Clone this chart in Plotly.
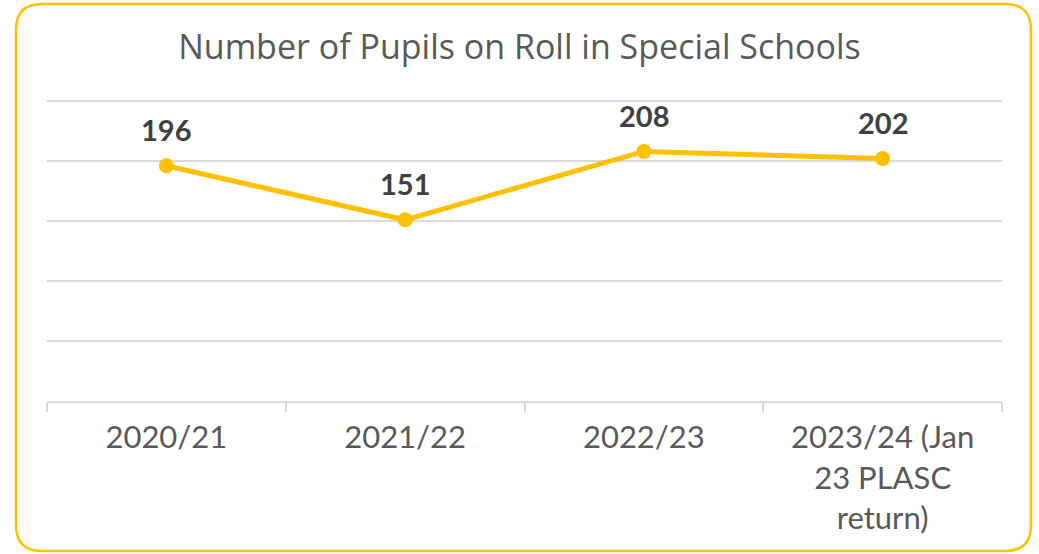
import plotly.graph_objects as go

# Pupils on roll in special schools by year
years = ["2020/21", "2021/22", "2022/23", "2023/24 (Jan<br>23 PLASC<br>return)"]
pupils = [196, 151, 208, 202]

GOLD = "#FFC000"
W, H = 1039, 554
L, R, T, B = 47, 37, 98, 153
Y_TOP = 252.5

fig = go.Figure()
fig.add_trace(go.Scatter(
    x=years, y=pupils, mode="lines+markers",
    line=dict(color=GOLD, width=5),
    marker=dict(color=GOLD, size=15),
    hoverinfo="x+y", showlegend=False,
))

# value labels above each point
for xv, yv in zip(years, pupils):
    fig.add_annotation(
        x=xv, y=yv, text=f"<b>{yv}</b>", showarrow=False,
        yshift=36, font=dict(family="Lato, sans-serif", size=29, color="#404040"),
    )

# rounded gold frame around the whole chart (pixel -> paper coords)
pw, ph = W - L - R, H - T - B
def px(x): return (x - L) / pw
def py(y): return (H - B - y) / ph
x0, x1, y0, y1, r = 16, 1031, 4, 551, 26
path = (f"M {px(x0 + r)},{py(y0)} L {px(x1 - r)},{py(y0)} "
        f"Q {px(x1)},{py(y0)} {px(x1)},{py(y0 + r)} "
        f"L {px(x1)},{py(y1 - r)} Q {px(x1)},{py(y1)} {px(x1 - r)},{py(y1)} "
        f"L {px(x0 + r)},{py(y1)} Q {px(x0)},{py(y1)} {px(x0)},{py(y1 - r)} "
        f"L {px(x0)},{py(y0 + r)} Q {px(x0)},{py(y0)} {px(x0 + r)},{py(y0)} Z")
fig.add_shape(type="path", path=path, xref="paper", yref="paper",
              line=dict(color=GOLD, width=2.5), layer="below")

fig.update_layout(
    width=W, height=H,
    margin=dict(l=L, r=R, t=T, b=B),
    paper_bgcolor="white", plot_bgcolor="white",
    title=dict(text="Number of Pupils on Roll in Special Schools",
               x=0.5, xanchor="center", y=1 - 47 / H, yanchor="middle",
               font=dict(family="Open Sans, sans-serif", size=34, color="#595959")),
    xaxis=dict(
        type="category", range=[-0.5, 3.5], showgrid=False,
        showline=True, linecolor="#D9D9D9", linewidth=2,
        ticks="outside", tickson="boundaries", ticklen=9, tickwidth=2, tickcolor="#D9D9D9",
        tickfont=dict(family="Lato, sans-serif", size=31, color="#595959"),
        ticklabelstandoff=8, fixedrange=True,
    ),
    yaxis=dict(
        range=[0, Y_TOP], tickvals=[50, 100, 150, 200, 250], showgrid=True,
        gridcolor="#D9D9D9", gridwidth=2,
        showticklabels=False, zeroline=False, showline=False, fixedrange=True,
    ),
)

fig.write_html("out.html")
